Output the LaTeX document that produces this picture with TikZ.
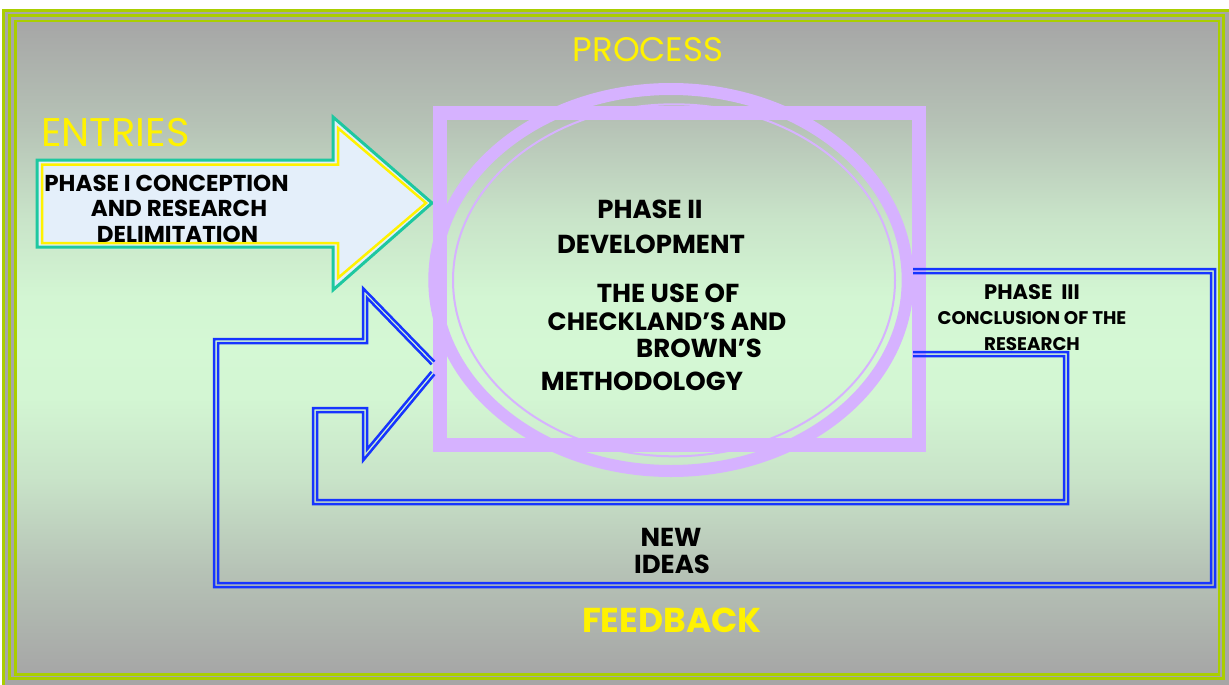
\documentclass[tikz,border=0pt]{standalone}
\usepackage{fontspec}
\setmainfont{Poppins}

\definecolor{framegreen}{RGB}{170,206,0}
\definecolor{slidegray}{RGB}{166,166,166}
\definecolor{mint}{RGB}{212,248,212}
\definecolor{lilac}{RGB}{214,178,255}
\definecolor{loopblue}{RGB}{22,52,255}
\definecolor{entryteal}{RGB}{30,200,160}
\definecolor{entryfill}{RGB}{228,239,250}

\pgfdeclareverticalshading{slidefade}{100bp}{color(0bp)=(slidegray); color(25bp)=(slidegray);
  color(33bp)=(mint!35!slidegray); color(40bp)=(mint!75!slidegray); color(46bp)=(mint!97!slidegray);
  color(50bp)=(mint); color(54bp)=(mint!97!slidegray); color(60bp)=(mint!75!slidegray);
  color(67bp)=(mint!35!slidegray); color(75bp)=(slidegray); color(100bp)=(slidegray)}

\newcommand{\fs}[1]{\fontsize{#1}{#1}\selectfont}

\begin{document}
\begin{tikzpicture}[x=1pt,y=-1pt,
  heading/.style={text=yellow,inner sep=0pt,anchor=base},
  phase/.style={font=\bfseries\fs{26},inner sep=0pt,anchor=base},
  loop/.style={draw=loopblue,line width=2.5pt,line join=miter}]

\useasboundingbox (0,0) rectangle (1229,685);
\fill[white] (0,0) rectangle (1229,685);
\fill[slidegray] (2,9) rectangle (1229,685);
\shade[shading=slidefade] (15.5,21) rectangle (1219,674.5);

% frame lines
\draw[framegreen,line width=3.5] (3.5,10.5) rectangle (1240,700);
\draw[framegreen,line width=3] (9,15.5) rectangle (1223,678);
\draw[framegreen,line width=2.5] (15.5,21) rectangle (1219,674.5);

% entries arrow
\draw[entryteal,fill=entryfill,line width=3] (37,160) -- (333,160) -- (333,117) -- (432,203) -- (333,290) -- (333,247) -- (37,247) -- cycle;
\draw[yellow,line width=2.5] (42,164.5) -- (338,164.5) -- (338,128) -- (426,203) -- (338,278) -- (338,243) -- (42,243) -- cycle;

% process box
\draw[lilac,line width=14] (440,113) rectangle (919,444.5);
\draw[lilac,line width=12] (671,280) ellipse (236.7 and 191);
\draw[lilac,line width=2] (674,280.3) ellipse (221 and 176);

% labels
\node[heading,font=\fs{40},anchor=base west] (entries) at (41,146.7) {ENTRIES};
\node[heading,font=\fs{34}] (process) at (648,61.7) {PROCESS};
\node[heading,font=\bfseries\fs{34.5}] (feedback) at (672,632) {FEEDBACK};

\node[phase,font=\bfseries\fs{23}] (p1a) at (166.5,191.7) {PHASE I CONCEPTION};
\node[phase,font=\bfseries\fs{23}] (p1b) at (179,216.7) {AND RESEARCH};
\node[phase,font=\bfseries\fs{23}] (p1c) at (177.5,242) {DELIMITATION};

\node[phase] (p2a) at (650,218.3) {PHASE II};
\node[phase] (p2b) at (651,253.3) {DEVELOPMENT};
\node[phase] (p2c) at (668,302.7) {THE USE OF};
\node[phase,font=\bfseries\fs{25}] (p2d) at (667,330.7) {CHECKLAND'S AND};
\node[phase] (p2e) at (699,357.3) {BROWN'S};
\node[phase] (p2f) at (642,390.5) {METHODOLOGY};

\node[phase,font=\bfseries\fs{21}] (p3a) at (1032,299.3) {PHASE\ \ III};
\node[phase,font=\bfseries\fs{18.3}] (p3b) at (1032,324) {CONCLUSION OF THE};
\node[phase,font=\bfseries\fs{18.3}] (p3c) at (1032,350) {RESEARCH};

\node[phase] (ideas) at (671,546) {NEW};
\node[phase] (ideasb) at (672,573) {IDEAS};

% feedback loop, outer pair
\draw[loop] (913,269) -- (1215,269) -- (1215,587) -- (214,587) -- (214,339) -- (363,339) -- (363,288.2) -- (434.4,361.6);
\draw[loop] (913,273) -- (1211,273) -- (1211,583) -- (218,583) -- (218,343) -- (367,343) -- (367,297.8) -- (431.6,364.4);
% inner pair
\draw[loop] (913,352) -- (1068,352) -- (1068,504) -- (313,504) -- (313,408) -- (367,408) -- (367,449.4) -- (431.5,371.7);
\draw[loop] (913,356) -- (1064,356) -- (1064,500) -- (317,500) -- (317,412) -- (363,412) -- (363,460.6) -- (434.5,374.3);

\end{tikzpicture}
\end{document}
